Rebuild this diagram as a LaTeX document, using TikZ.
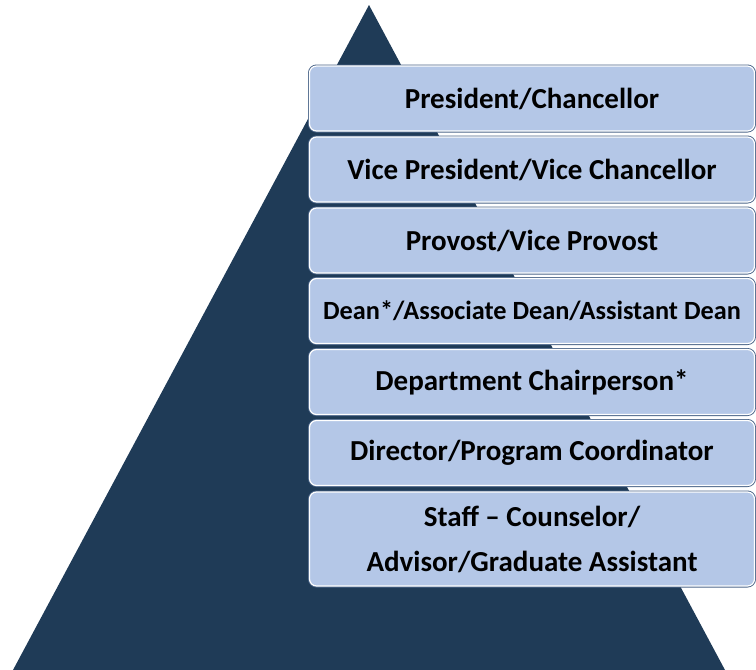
\documentclass[tikz,border=0pt]{standalone}
\usepackage{fontspec}
\setmainfont{Carlito}
\definecolor{pyramid}{HTML}{1F3B57}
\definecolor{tierfill}{HTML}{B4C7E7}
\definecolor{tieredge}{HTML}{4A6488}
\begin{document}
\begin{tikzpicture}[x=1pt, y=-1pt, font=\bfseries\fontsize{29}{45}\selectfont,
  tier/.style={rounded corners=7pt, fill=tierfill, draw=white, line width=1.2pt,
    preaction={draw=tieredge, line width=3pt},
    minimum width=445pt, minimum height=65pt, inner sep=0pt, align=center}]
\useasboundingbox (0,0) rectangle (756,670);
\coordinate (apex) at (369,5);
\coordinate (L) at (13,670);
\coordinate (R) at (725,670);
\fill[pyramid] (apex)--(R)--(L)--cycle;
% tiers, top to bottom
\foreach \n/\y/\t in {1/98.5/{President/Chancellor},
  2/169.5/{Vice President/Vice Chancellor},
  3/240.5/{Provost/Vice Provost}}
\node[tier] (t\n) at (532,\y) {\t};
\node[tier, font=\bfseries\fontsize{26.3}{45}\selectfont] (t4) at (532,311) {Dean*/Associate Dean/Assistant Dean};
\node[tier] (t5) at (532,382) {Department Chairperson*};
\node[tier] (t6) at (532,453) {Director/Program Coordinator};
\node[tier, minimum height=94pt] (t7) at (532,539) {Staff -- Counselor/\\Advisor/Graduate Assistant};
\end{tikzpicture}
\end{document}
